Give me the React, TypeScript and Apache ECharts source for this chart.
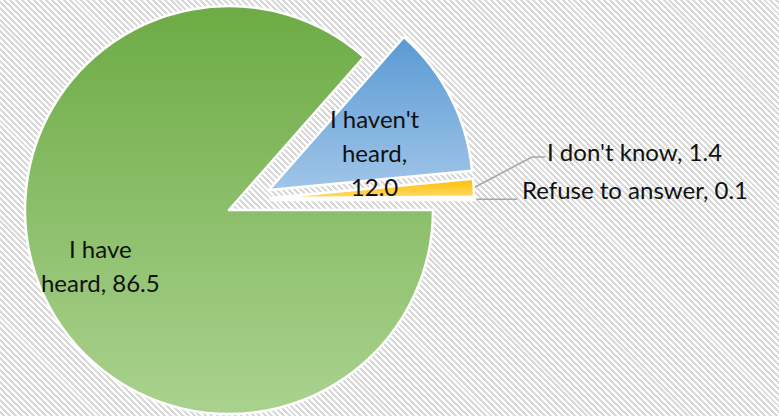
import React, { useEffect, useRef } from "react";
import * as echarts from "echarts";

const categories = ["I have heard", "I haven't heard", "I don't know", "Refuse to answer"];
const values = [86.5, 12.0, 1.4, 0.1];
const labelTexts = ["I have\nheard, 86.5", "I haven't\nheard,\n12.0", "I don't know, 1.4", "Refuse to answer, 0.1"];
const sliceColors = [
  ["#6DAB45", "#AAD28F"],
  ["#5A9AD4", "#A0C5E8"],
  ["#FFBE00", "#FFDA6A"],
  ["#A5A5A5", "#C9C9C9"],
];

export default function App() {
  const ref = useRef<HTMLDivElement>(null);
  useEffect(() => {
    document.body.style.margin = "0";
    const chart = echarts.init(ref.current!, null, { renderer: "svg" });
    const centers = [
      [229, 210],
      [269, 190],
      [270, 198],
      [271, 200],
    ];
    const layouts = [
      (p: any) => ({ dx: -33, dy: 12 }),
      (p: any) => ({ dx: 12, dy: 10 }),
      (p: any) => {
        const p0 = p.labelLinePoints ? p.labelLinePoints[0] : [474, 188];
        return {
          x: 547, y: 151, align: "left", verticalAlign: "middle",
          labelLinePoints: [p0, [532, 157], [545, 157]],
        };
      },
      (p: any) => {
        const p0 = p.labelLinePoints ? p.labelLinePoints[0] : [475, 200];
        return {
          x: 522, y: 189, align: "left", verticalAlign: "middle",
          labelLinePoints: [p0, [p0[0] + 20, p0[1]], [517, p0[1]]],
        };
      },
    ];
    const series = values.map((_, s) => ({
      type: "pie",
      silent: true,
      radius: 204,
      center: centers[s],
      startAngle: 0,
      clockwise: true,
      avoidLabelOverlap: false,
      emphasis: { disabled: true },
      labelLayout: layouts[s],
      data: values.map((v, i) =>
        i === s
          ? {
              value: v,
              name: categories[i],
              itemStyle: {
                color: new echarts.graphic.LinearGradient(0, 0, 0, 1, [
                  { offset: 0, color: sliceColors[i][0] },
                  { offset: 1, color: sliceColors[i][1] },
                ]),
                borderColor: "#ffffff",
                borderWidth: 2.5,
              },
              label: {
                show: true,
                position: s < 2 ? "inside" : "outside",
                formatter: () => labelTexts[i],
                color: "#111111",
                fontFamily: "Lato",
                fontSize: 24,
                lineHeight: 34,
                align: "center",
              },
              labelLine: {
                show: s >= 2,
                lineStyle: { color: "#A6A6A6", width: 1.5 },
              },
            }
          : {
              value: v,
              name: categories[i],
              itemStyle: { color: "rgba(0,0,0,0)", borderWidth: 0 },
              label: { show: false },
              labelLine: { show: false },
            }
      ),
    }));
    chart.setOption({
      animation: false,
      backgroundColor: "transparent",
      series,
    });
    return () => chart.dispose();
  }, []);
  return (
    <div
      style={{
        width: 779,
        height: 416,
        background:
          "repeating-linear-gradient(45deg, #ffffff 0px, #ffffff 2.1px, #d9d9d9 2.1px, #d9d9d9 4.2px)",
      }}
    >
      <div ref={ref} style={{ width: 779, height: 416 }} />
    </div>
  );
}
